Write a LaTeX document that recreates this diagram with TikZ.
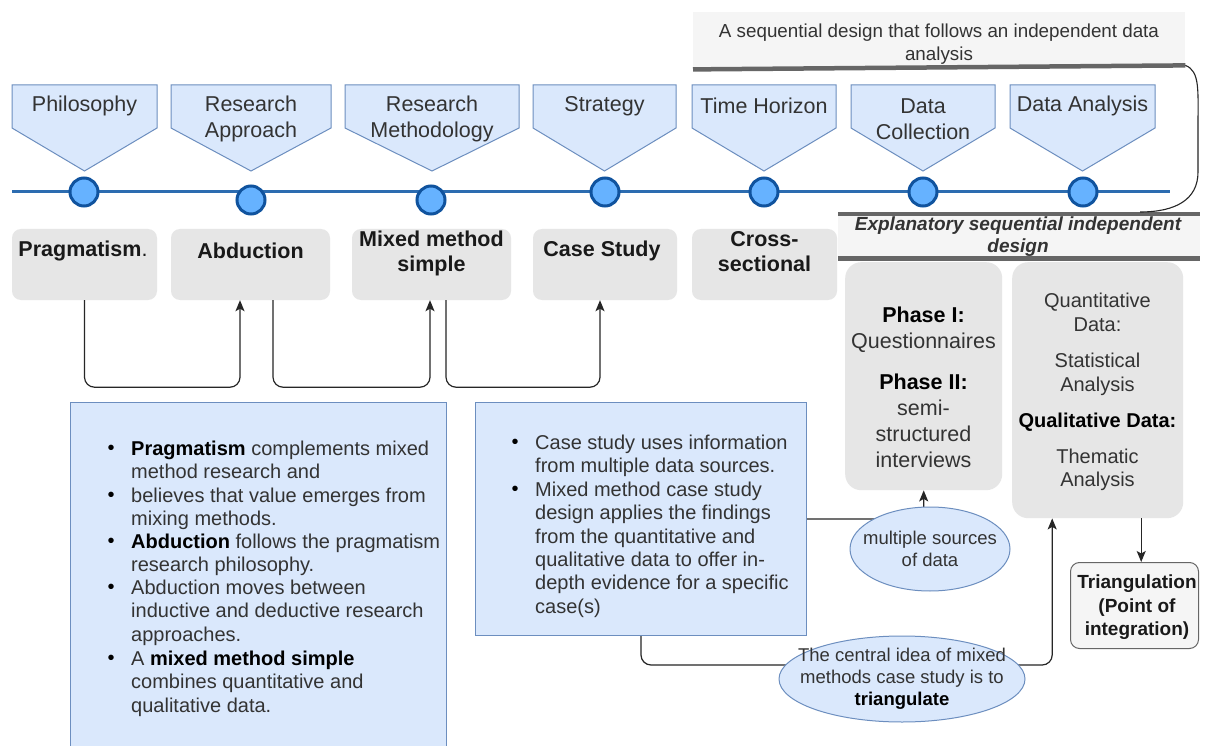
\documentclass[tikz,border=0pt]{standalone}
\usepackage{fontspec}
\setmainfont{Liberation Sans}
\usetikzlibrary{arrows.meta,shapes.geometric}

\definecolor{bluefill}{HTML}{DAE8FC}
\definecolor{blueline}{HTML}{6C8EBF}
\definecolor{axisblue}{HTML}{2C6CB0}
\definecolor{dotfill}{HTML}{66B2FF}
\definecolor{dotline}{HTML}{10539E}
\definecolor{greybox}{HTML}{E6E6E6}
\definecolor{palegrey}{HTML}{F5F5F5}
\definecolor{bargrey}{HTML}{666666}
\definecolor{ink}{HTML}{333333}

\newcommand{\fsz}[2]{\fontsize{#1}{#2}\selectfont}

\tikzset{
  tabshape/.style={draw=blueline, fill=bluefill, line width=1pt, line join=miter},
  headtext/.style={text=ink, align=center, font=\fsz{21.5}{26}, inner sep=0pt},
  dot/.style={circle, draw=dotline, fill=dotfill, line width=3pt, minimum size=28pt, inner sep=0pt},
  greyb/.style={rectangle, rounded corners=9pt, fill=greybox, inner sep=0pt},
  boldlabel/.style={align=center, font=\fsz{21.5}{25}\bfseries, text=black!90, inner sep=0pt},
  notebox/.style={rectangle, draw=blueline, fill=bluefill, line width=1pt, inner sep=0pt},
  itemtext/.style={align=left, font=\fsz{20}{23.3}, text=ink, inner sep=0pt, anchor=north west},
  bul/.style={font=\fsz{20}{20}, text=black, inner sep=0pt},
  conn/.style={draw=black!85, line width=1.2pt, rounded corners=10pt},
  arr/.style={-{Stealth[length=11pt,width=9pt,inset=2.5pt]}},
  oval/.style={ellipse, draw=blueline, fill=bluefill, line width=1pt, inner sep=0pt},
  ovaltext/.style={align=center, text=ink, inner sep=0pt, font=\fsz{18.5}{22}},
  darkbar/.style={draw=bargrey, line width=4.5pt},
}

% one coloured tab with a downward point: name, left x, right x, text y, text
\newcommand{\headtab}[5]{%
  \draw[tabshape] (#2,85) -- (#3,85) -- (#3,128) -- ({(#2+#3)/2},171) -- (#2,128) -- cycle;
  \node[headtext] (#1) at ({(#2+#3)/2},#4) {#5};
}

\begin{document}
\begin{tikzpicture}[x=1pt,y=-1pt]
\clip (0,0) rectangle (1208,746);
\fill[white] (0,0) rectangle (1208,746);

% ---- note above the last three stages ----
\node[rectangle, fill=palegrey, minimum width=492pt, minimum height=55pt, inner sep=0pt, anchor=north west] (topnote) at (693,12) {};
\node[align=center, font=\fsz{18.8}{23}, text=ink, inner sep=0pt] (topnotetext) at (939,44.5)
  {A sequential design that follows an independent data\\analysis};
\draw[darkbar] (topnote.south west) ++(0,2) coordinate (tb-l) -- ([yshift=2pt]topnote.south east) coordinate (tb-r);

% ---- stage tabs ----
\headtab{h1}{12}{157}{106}{Philosophy}
\headtab{h2}{171}{331}{119}{Research\\Approach}
\headtab{h3}{345}{519}{119}{Research\\Methodology}
\headtab{h4}{533}{676}{106}{Strategy}
\headtab{h5}{692}{836}{106}{Time Horizon}
\headtab{h6}{851}{995}{119}{Data\\Collection}
\headtab{h7}{1010}{1155}{106}{Data Analysis}

% ---- timeline ----
\coordinate (tl-a) at (12,192);
\coordinate (tl-b) at (1170,192);
\draw[axisblue, line width=3pt] (tl-a) -- (tl-b);
\node[dot] (d1) at (84,192) {};
\node[dot] (d2) at (251,200) {};
\node[dot] (d3) at (431,200) {};
\node[dot] (d4) at (605,192) {};
\node[dot] (d5) at (764,192) {};
\node[dot] (d6) at (923,192) {};
\node[dot] (d7) at (1083,192) {};

% ---- design banner ----
\node[rectangle, fill=palegrey, minimum width=362pt, minimum height=44pt, inner sep=0pt, anchor=north west] (expl) at (838,214) {};
\draw[darkbar] (expl.north west) -- (expl.north east);
\draw[darkbar] (expl.south west) -- (expl.south east);
\node[align=center, font=\fsz{19}{22}\bfseries\itshape, text=ink, inner sep=0pt] (expltext) at (1018,237)
  {Explanatory sequential independent\\design};
\coordinate (ex-top) at (1140,212);
\draw[draw=black!85, line width=1.1pt] (tb-r) .. controls (1200,71) and (1198,90) .. (1198,125)
  -- (1198,172) .. controls (1198,200) and (1175,212) .. (ex-top);

% ---- stage choices ----
\node[greyb, minimum width=145pt, minimum height=71pt] (b1) at (84.5,264.5) {};
\node[greyb, minimum width=159pt, minimum height=71pt] (b2) at (250.5,264.5) {};
\node[greyb, minimum width=159pt, minimum height=71pt] (b3) at (431.5,264.5) {};
\node[greyb, minimum width=144pt, minimum height=71pt] (b4) at (605,264.5) {};
\node[greyb, minimum width=145pt, minimum height=71pt] (b5) at (764.5,264.5) {};
\node[boldlabel] (l1) at (83,251) {Pragmatism\mdseries.};
\node[boldlabel] (l2) at (250.5,251) {Abduction};
\node[boldlabel] (l3) at (431.5,253.5) {Mixed method\\simple};
\node[boldlabel] (l4) at (602,251) {Case Study};
\node[boldlabel] (l5) at (764.5,251.5) {Cross-\\sectional};

% ---- links between choices ----
\draw[conn, arr] (b1.south) -- ++(0,87) -| ([xshift=-10.5pt]b2.south);
\draw[conn, arr] ([xshift=22.5pt]b2.south) -- ++(0,87) -| ([xshift=-1.5pt]b3.south);
\draw[conn, arr] ([xshift=14.5pt]b3.south) -- ++(0,87) -| ([xshift=-5pt]b4.south);

% ---- explanatory notes ----
\node[notebox, minimum width=376pt, minimum height=360pt, anchor=north west] (notesA) at (70,402) {};
\node[bul] (ba1) at (111,450) {•};
\node[itemtext] (ia1) at (131,441) {\textbf{\color{black}Pragmatism} complements mixed\\method research and};
\node[bul] (ba2) at (111,497) {•};
\node[itemtext] (ia2) at (131,488) {believes that value emerges from\\mixing methods.};
\node[bul] (ba3) at (111,543) {•};
\node[itemtext] (ia3) at (131,534) {\textbf{\color{black}Abduction} follows the pragmatism\\research philosophy.};
\node[bul] (ba4) at (111,589) {•};
\node[itemtext] (ia4) at (131,580) {Abduction moves between\\inductive and deductive research\\approaches.};
\node[bul] (ba5) at (111,660) {•};
\node[itemtext] (ia5) at (131,651) {A \textbf{\color{black}mixed method simple}\\combines quantitative and\\qualitative data.};

\node[notebox, minimum width=331pt, minimum height=233pt, anchor=north west] (notesB) at (475,402) {};
\node[bul] (bb1) at (515,444) {•};
\node[itemtext] (ib1) at (535,435) {Case study uses information\\from multiple data sources.};
\node[bul] (bb2) at (515,491) {•};
\node[itemtext] (ib2) at (535,482) {Mixed method case study\\design applies the findings\\from the quantitative and\\qualitative data to offer in-\\depth evidence for a specific\\case(s)};

% ---- data collection and analysis ----
\node[greyb, rounded corners=16pt, minimum width=157pt, minimum height=228pt, anchor=north west] (phase) at (845,262) {};
\node[align=center, font=\fsz{21.5}{26}, text=ink, inner sep=0pt] (phasetext) at (923.5,387.5)
  {\textbf{\color{black}Phase I:}\\Questionnaires\\[15pt]\textbf{\color{black}Phase II:}\\semi-\\structured\\interviews};
\node[greyb, rounded corners=16pt, minimum width=171pt, minimum height=256pt, anchor=north west] (quant) at (1012,262) {};
\node[align=center, font=\fsz{20}{23.5}, text=ink, inner sep=0pt] (quanttext) at (1097.5,392)
  {Quantitative\\Data:\\[13pt]Statistical\\Analysis\\[13pt]\textbf{\color{black}Qualitative Data:}\\[12pt]Thematic\\Analysis};

\node[rectangle, rounded corners=9pt, draw=bargrey, fill=palegrey, line width=1pt, minimum width=128pt, minimum height=86pt, anchor=north west] (tri) at (1070,562) {};
\node[align=center, font=\fsz{19}{23.5}\bfseries, text=black!90, inner sep=0pt] (tritext) at (1137,607.5)
  {Triangulation\\(Point of\\integration)};

% ---- links into the data boxes ----
\draw[conn, arr] (notesB.east) -| (phase.south);
\draw[conn, arr] (notesB.south) -- ++(0,29) -| ([xshift=-45.5pt]quant.south);
\draw[conn, arr, rounded corners=0pt] ([xshift=43.5pt]quant.south) -- ([xshift=43.5pt]quant.south |- tri.north);

\node[oval, minimum width=160pt, minimum height=84pt] (src) at (930,549) {};
\node[ovaltext] (srctext) at (930,549) {multiple sources\\of data};
\node[oval, minimum width=246pt, minimum height=86pt] (central) at (902,679) {};
\node[ovaltext] (centraltext) at (902,679)
  {The central idea of mixed\\methods case study is to\\\textbf{\color{black}triangulate}};

\end{tikzpicture}
\end{document}
